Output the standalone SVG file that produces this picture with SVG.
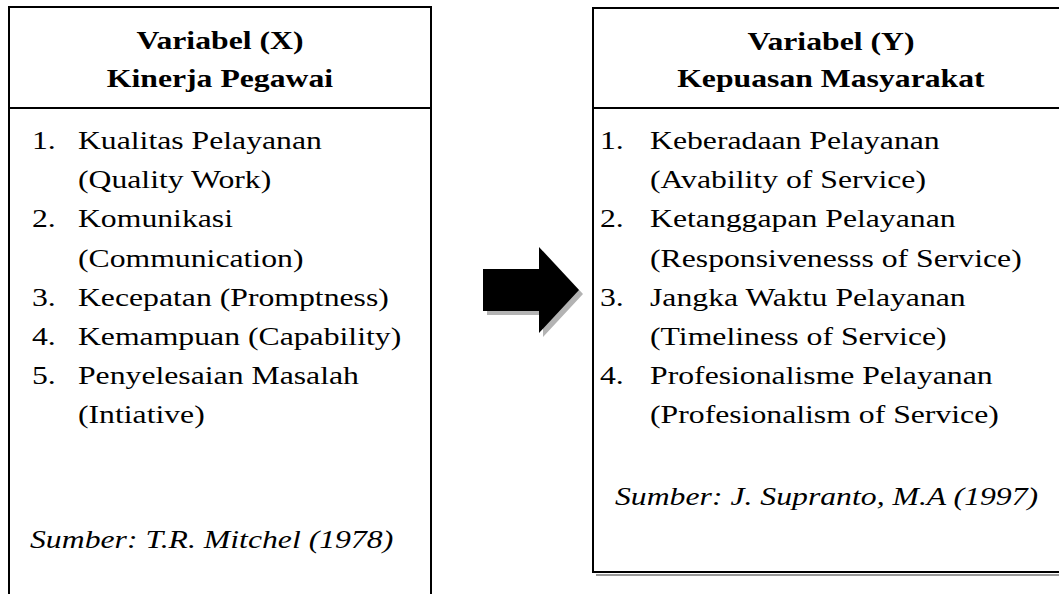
<svg xmlns="http://www.w3.org/2000/svg" width="1059" height="594" viewBox="0 0 1059 594">
<style>
.box{fill:#fff;stroke:#000;stroke-width:2}
.div{stroke:#000;stroke-width:2}
.t{font-family:"Liberation Serif","Times New Roman",serif;font-size:26px;fill:#000}
.b{font-weight:bold;text-anchor:middle}
.i{font-style:italic}
</style>
<rect width="1059" height="594" fill="#fff"/>
<g id="node-x">
<path class="box" d="M9,600 V7 H431 V600"/>
<line class="div" x1="9" y1="108" x2="431" y2="108"/>
<g transform="scale(1.22 1)">
<text class="t b" x="180.3" y="49">Variabel (X)</text>
<text class="t b" x="180.3" y="87">Kinerja Pegawai</text>
<text class="t" x="26.2" y="149">1.</text>
<text class="t" x="63.9" y="149">Kualitas Pelayanan</text>
<text class="t" x="63.9" y="188.2">(Quality Work)</text>
<text class="t" x="26.2" y="227.4">2.</text>
<text class="t" x="63.9" y="227.4">Komunikasi</text>
<text class="t" x="63.9" y="266.6">(Communication)</text>
<text class="t" x="26.2" y="305.8">3.</text>
<text class="t" x="63.9" y="305.8">Kecepatan (Promptness)</text>
<text class="t" x="26.2" y="345">4.</text>
<text class="t" x="63.9" y="345">Kemampuan (Capability)</text>
<text class="t" x="26.2" y="384.2">5.</text>
<text class="t" x="63.9" y="384.2">Penyelesaian Masalah</text>
<text class="t" x="63.9" y="423.4">(Intiative)</text>
<text class="t i" x="24.6" y="548">Sumber: T.R. Mitchel (1978)</text>
</g>
</g>
<g id="node-y">
<path d="M596,575 H1070" stroke="#999" stroke-width="2" fill="none"/>
<path class="box" d="M1075,572 H593 V8 H1075"/>
<line class="div" x1="593" y1="108" x2="1059" y2="108"/>
<g transform="scale(1.22 1)">
<text class="t b" x="681.1" y="50">Variabel (Y)</text>
<text class="t b" x="681.1" y="87">Kepuasan Masyarakat</text>
<text class="t" x="491.8" y="149">1.</text>
<text class="t" x="532.8" y="149">Keberadaan Pelayanan</text>
<text class="t" x="532.8" y="188.2">(Avability of Service)</text>
<text class="t" x="491.8" y="227.4">2.</text>
<text class="t" x="532.8" y="227.4">Ketanggapan Pelayanan</text>
<text class="t" x="532.8" y="266.6">(Responsivenesss of Service)</text>
<text class="t" x="491.8" y="305.8">3.</text>
<text class="t" x="532.8" y="305.8">Jangka Waktu Pelayanan</text>
<text class="t" x="532.8" y="345">(Timeliness of Service)</text>
<text class="t" x="491.8" y="384.2">4.</text>
<text class="t" x="532.8" y="384.2">Profesionalisme Pelayanan</text>
<text class="t" x="532.8" y="423.4">(Profesionalism of Service)</text>
<text class="t i" x="504.1" y="505">Sumber: J. Supranto, M.A (1997)</text>
</g>
</g>
<g id="connectors">
<polygon points="487,273 543,273 543,251 583,294 543,337 543,315 487,315" fill="#b3b3b3"/>
<polygon points="483,269 539,269 539,247 579,290 539,333 539,311 483,311" fill="#000"/>
</g>
</svg>
